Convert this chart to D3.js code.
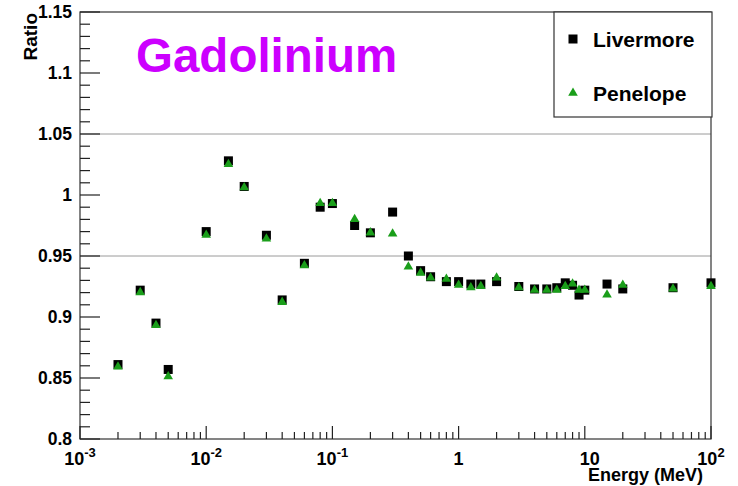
<!DOCTYPE html>
<html><head><meta charset="utf-8">
<script src="https://cdn.jsdelivr.net/npm/d3@7"></script>
<style>body{margin:0;background:#fff}svg{display:block}text{font-family:"Liberation Sans",Arial,sans-serif;font-weight:bold}</style>
</head><body>
<svg id="c" width="738" height="486"></svg>
<script>
const energies = [0.002,0.003,0.004,0.005,0.01,0.015,0.02,0.03,0.04,0.06,0.08,0.1,0.15,0.2,0.3,0.4,0.5,0.6,0.8,1,1.25,1.5,2,3,4,5,6,7,8,9,10,15,20,50,100];
const livermore = [0.861,0.922,0.895,0.857,0.970,1.028,1.007,0.967,0.914,0.944,0.990,0.993,0.975,0.969,0.986,0.950,0.938,0.933,0.929,0.929,0.927,0.927,0.929,0.925,0.923,0.923,0.924,0.928,0.926,0.918,0.922,0.927,0.923,0.924,0.928];
const penelope = [0.860,0.921,0.894,0.852,0.968,1.026,1.007,0.965,0.913,0.943,0.994,0.994,0.981,0.970,0.969,0.942,0.937,0.933,0.932,0.927,0.925,0.926,0.933,0.925,0.923,0.923,0.923,0.926,0.928,0.923,0.923,0.919,0.927,0.924,0.926];
const yTicks = [0.8,0.85,0.9,0.95,1,1.05,1.1,1.15];
const yTickLabels = ["0.8","0.85","0.9","0.95","1","1.05","1.1","1.15"];
const xTicks = [0.001,0.01,0.1,1,10,100];
const xTickLabels = [["10","-3"],["10","-2"],["10","-1"],["1",""],["10",""],["10","2"]];
const gridValues = [0.95,1.05];
const seriesNames = ["Livermore","Penelope"];
const seriesColors = ["#000000","#1a9e1a"];
const titleText = "Gadolinium";

const svg = d3.select("#c");
const L=80,R=711,T=12,B=439;
const x = d3.scaleLog().domain([0.001,100]).range([L,R]);
const y = d3.scaleLinear().domain([0.8,1.15]).range([B,T]);

// grid
svg.selectAll(".grid").data(gridValues).enter().append("line")
  .attr("x1",L).attr("x2",R).attr("y1",d=>y(d)).attr("y2",d=>y(d))
  .attr("stroke","#9a9a9a").attr("stroke-width",1);

// frame
svg.append("rect").attr("x",L).attr("y",T).attr("width",R-L).attr("height",B-T)
  .attr("fill","none").attr("stroke","#333").attr("stroke-width",1.2);

// y ticks
const yMinor = d3.range(0,36).map(i=>0.8+i*0.01);
svg.selectAll(".ym").data(yMinor).enter().append("line")
  .attr("x1",L).attr("x2",(d,i)=> i%5===0? L+20 : L+10)
  .attr("y1",d=>y(d)).attr("y2",d=>y(d)).attr("stroke","#222").attr("stroke-width",1.2);
svg.selectAll(".yl").data(yTicks).enter().append("text")
  .attr("x",72).attr("y",d=>y(d)).attr("dy","0.36em").attr("text-anchor","end")
  .attr("font-size",17.5).text((d,i)=>yTickLabels[i]);

// x ticks
const xMinor=[];
for(let e=-3;e<2;e++) for(let k=2;k<=9;k++) xMinor.push(k*Math.pow(10,e));
svg.selectAll(".xm").data(xMinor).enter().append("line")
  .attr("x1",d=>x(d)).attr("x2",d=>x(d)).attr("y1",B).attr("y2",B-7)
  .attr("stroke","#222").attr("stroke-width",1.2);
svg.selectAll(".xM").data(xTicks).enter().append("line")
  .attr("x1",d=>x(d)).attr("x2",d=>x(d)).attr("y1",B).attr("y2",B-13)
  .attr("stroke","#222").attr("stroke-width",1.2);
xTicks.forEach((v,i)=>{
  const [base,sup]=xTickLabels[i];
  const t=svg.append("text").attr("x",x(v)+(i===4?5:0)).attr("y",465).attr("text-anchor","middle").attr("font-size",18);
  t.append("tspan").text(base);
  if(sup) t.append("tspan").attr("dy",-8).attr("font-size",13).text(sup);
});

// axis titles
svg.append("text").attr("x",703).attr("y",481).attr("text-anchor","end").attr("font-size",18).text("Energy (MeV)");
svg.append("text").attr("transform","translate(37,13) rotate(-90)").attr("text-anchor","end").attr("font-size",19).text("Ratio");

// title
svg.append("text").attr("x",136).attr("y",72).attr("font-size",47.5).attr("fill","#cc00ff").text(titleText);

// markers
const sq=9;
svg.selectAll(".sq").data(energies).enter().append("rect")
  .attr("x",(d)=>x(d)-sq/2).attr("y",(d,i)=>y(livermore[i])-sq/2).attr("width",sq).attr("height",sq)
  .attr("fill",seriesColors[0]);
const tri=d3.symbol().type(d3.symbolTriangle).size(40);
svg.selectAll(".tr").data(energies).enter().append("path")
  .attr("d",tri).attr("transform",(d,i)=>`translate(${x(d)},${y(penelope[i])+1})`)
  .attr("fill",seriesColors[1]);

// legend
svg.append("rect").attr("x",554).attr("y",T).attr("width",158).attr("height",105)
  .attr("fill","#fff").attr("stroke","#333").attr("stroke-width",1.2);
svg.append("rect").attr("x",573-sq/2).attr("y",39-sq/2).attr("width",sq).attr("height",sq).attr("fill",seriesColors[0]);
svg.append("path").attr("d",tri).attr("transform","translate(573,93)").attr("fill",seriesColors[1]);
svg.append("text").attr("x",593).attr("y",47).attr("font-size",21).text(seriesNames[0]);
svg.append("text").attr("x",593).attr("y",101).attr("font-size",21).text(seriesNames[1]);
</script>
</body></html>
